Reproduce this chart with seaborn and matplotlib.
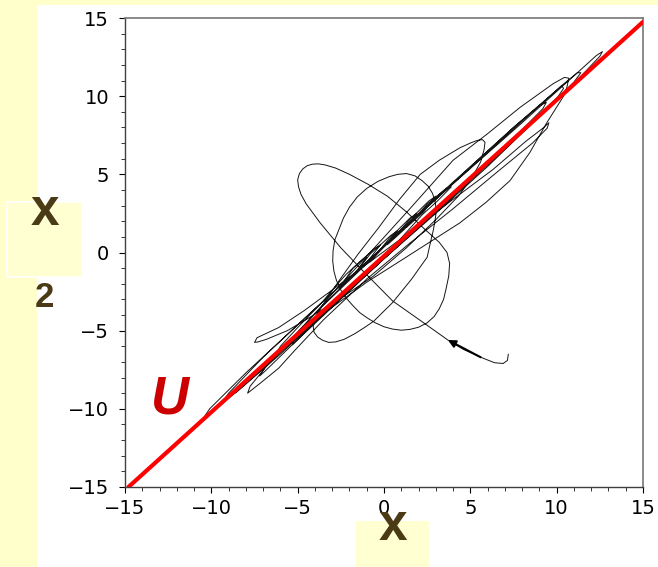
import numpy as np
import matplotlib
matplotlib.use("Agg")
import matplotlib.pyplot as plt
from matplotlib.patches import Rectangle
from matplotlib.ticker import MultipleLocator
import seaborn as sns

sns.set_style("ticks")
plt.rcParams['font.family'] = ['DejaVu Sans']

# ---------------- data ----------------
# trajectory (x1, x2), traced segment by segment
seg_a_x1 = [7.2, 7.15, 6.9, 6.4, 5.6, 4.6, 3.7, 2.3, 0.5, -1.2, -2.5, -3.7, -4.5, -4.8, -4.95, -5.0, -4.9,
            -4.7, -4.45, -4.15, -3.8, -3.4, -2.8, -2.0, -0.9, 0.2, 1.3, 2.3, 3.2, 3.65, 3.8, 3.75, 3.6]
seg_a_x2 = [-6.5, -6.9, -7.1, -7.05, -6.7, -6.2, -5.6, -4.5, -3.1, -1.2, 0.3, 1.9, 3.1, 3.7, 4.2, 4.65, 5.05,
            5.35, 5.55, 5.65, 5.67, 5.6, 5.4, 5.0, 4.35, 3.6, 2.6, 1.55, 0.65, 0.0, -0.7, -1.5, -2.3]
seg_b_x1 = [3.45, 3.2, 2.9, 2.5, 2.0, 1.5, 1.0, 0.5, 0.0, -0.5, -0.95, -1.4, -1.8, -2.2, -2.5, -2.75, -2.9,
            -2.97, -2.95, -2.85, -2.6, -2.35, -2.0, -1.55, -1.0, -0.35, 0.3, 0.8, 1.3, 1.8, 2.2, 2.55, 2.8,
            2.95, 3.0, 3.0, 2.95, 2.85, 2.7, 2.5]
seg_b_x2 = [-3.0, -3.6, -4.1, -4.5, -4.78, -4.92, -4.97, -4.9, -4.75, -4.5, -4.2, -3.85, -3.4, -2.9, -2.4, -1.8,
            -1.2, -0.55, 0.1, 0.8, 1.5, 2.2, 2.9, 3.55, 4.1, 4.55, 4.85, 5.0, 5.05, 4.9, 4.6, 4.25, 3.8, 3.35,
            2.9, 2.4, 2.0, 1.4, 0.7, -0.3]
seg_c_x1 = [1.6, 0.5, -0.6, -1.2, -1.7, -2.3, -2.8, -3.2, -3.55, -3.85, -4.05, -4.1, -4.0, -3.4]
seg_c_x2 = [-1.7, -3.2, -4.4, -4.85, -5.2, -5.55, -5.72, -5.75, -5.62, -5.4, -5.1, -4.75, -4.2, -3.1]
seg_d_x1 = [-2.6, -1.5, -0.3, 0.9, 2.1, 3.2, 4.4, 5.0, 5.4, 5.7, 5.85, 5.8, 5.6, 5.1, 4.3, 3.0, 1.3, -0.6,
            -2.6, -4.6, -5.6, -6.8, -7.3, -7.5, -7.35, -6.1, -4.6, -3.0, -1.0, 1.5, 4.0, 6.3, 8.2, 9.2, 9.55]
seg_d_x2 = [-1.8, -0.1, 1.6, 3.4, 5.0, 5.9, 6.7, 7.0, 7.17, 7.22, 7.05, 6.6, 5.8, 4.8, 3.6, 2.1, 0.3, -1.5,
            -3.0, -4.35, -5.0, -5.55, -5.72, -5.75, -5.45, -4.8, -3.7, -2.4, -0.75, 1.3, 3.4, 5.3, 7.1, 7.95, 8.3]
seg_e_x1 = [9.45, 8.6, 6.5, 4.0, 1.5, -1.0, -3.5, -5.2, -6.1, -7.1, -7.9, -7.75, -6.6, -4.8, -2.8, -0.8, 1.5, 4.0,
            6.0, 7.9, 9.8, 10.45, 10.7, 10.6, 10.4, 9.4, 8.45, 7.3, 5.9, 4.4, 2.7, 1.0, -1.0, -3.0, -4.6, -5.8,
            -6.2, -6.0, -5.0, -3.6]
seg_e_x2 = [7.95, 7.0, 5.1, 2.8, 0.6, -1.7, -4.3, -6.3, -7.4, -8.3, -9.0, -8.55, -7.0, -4.9, -2.4, 0.0, 2.8, 5.9,
            7.6, 9.3, 10.8, 11.2, 11.15, 10.6, 10.0, 8.25, 6.4, 4.6, 3.2, 1.9, 0.7, -0.5, -1.9, -3.5, -4.9, -6.0,
            -6.4, -6.0, -4.8, -3.2]
seg_f_x1 = [-3.0, -2.2, -1.2, -1.0, -1.6, -2.4, -2.6, -1.8, -0.6, -0.2, -0.9, -1.7, -0.8, 0.4, 0.8, 0.1, -0.8,
            0.3, 1.5, 1.9, 1.2, 0.2, 1.4, 2.6, 3.0, 2.3, 1.3, 2.5, 3.6, 3.9, 3.1, 2.2]
seg_f_x2 = [-2.4, -1.4, -0.4, -0.3, -1.2, -2.1, -2.3, -1.0, 0.2, 0.5, -0.5, -1.4, -0.1, 1.1, 1.4, 0.5, -0.6,
            0.9, 2.2, 2.5, 1.5, 0.5, 2.0, 3.3, 3.6, 2.6, 1.6, 3.1, 4.1, 4.2, 3.3, 2.4]
seg_g_x1 = [0.0, -4.0, -7.5, -9.6, -10.4, -10.1, -8.0, -4.0, 0.0, 4.0, 8.0, 11.0, 12.3, 12.65, 12.5, 11.0, 8.0,
            4.0, 0.0, -3.0, -5.5, -6.9, -7.2, -6.8, -4.0, 0.0, 4.0, 7.5, 9.6, 10.3, 10.4, 10.1, 9.0, 6.0, 3.0,
            0.0, -2.5, -4.5, -5.3, -5.2, -4.0, -2.0]
seg_g_x2 = [-0.3, -4.4, -7.9, -9.9, -10.5, -10.0, -7.7, -3.6, 0.4, 4.4, 8.3, 11.3, 12.6, 12.85, 12.55, 10.8, 7.7,
            3.6, -0.4, -3.5, -6.1, -7.6, -7.9, -7.2, -3.9, 0.35, 4.45, 8.0, 10.0, 10.65, 10.5, 10.0, 8.7, 5.5, 2.5,
            -0.4, -2.9, -5.0, -5.9, -5.4, -3.9, -1.7]
seg_h_x1 = [1.0, 4.5, 7.5, 9.0, 9.4, 9.2, 7.5, 4.0, 0.5, -3.0, -6.0, -8.5, -9.3, -9.0, -7.0, -4.0, -1.0, 2.0,
            5.0, 8.0, 10.2, 11.2, 11.4, 11.0, 9.0, 6.0, 3.0, 0.5]
seg_h_x2 = [1.5, 5.0, 8.0, 9.4, 9.6, 9.2, 7.3, 3.7, 0.1, -3.4, -6.5, -8.9, -9.5, -9.0, -6.7, -3.6, -0.6, 2.4,
            5.4, 8.4, 10.6, 11.5, 11.5, 10.9, 8.7, 5.6, 2.6, 0.2]

# manifold U (diagonal line)
U_x1 = [-14.8, 15.0]
U_x2 = [-15.0, 14.75]

ticks_major = [-15, -10, -5, 0, 5, 10, 15]
label_U = "U"
label_x = "x"
label_sub = "2"

traj_x1 = np.concatenate([seg_a_x1, seg_b_x1, seg_c_x1, seg_d_x1, seg_e_x1, seg_f_x1, seg_g_x1, seg_h_x1])
traj_x2 = np.concatenate([seg_a_x2, seg_b_x2, seg_c_x2, seg_d_x2, seg_e_x2, seg_f_x2, seg_g_x2, seg_h_x2])

# ---------------- figure ----------------
W, H = 658, 567
fig = plt.figure(figsize=(W / 100, H / 100), dpi=100)
fig.patch.set_facecolor('#FFFFCC')
fig.patches.append(Rectangle((37 / W, 0), 1 - 37 / W, 1 - 5 / H, transform=fig.transFigure,
                             facecolor='white', edgecolor='none', zorder=-2))
# label boxes
fig.patches.append(Rectangle((7 / W, 1 - 277 / H), 75 / W, 75 / H, transform=fig.transFigure,
                             facecolor='#FFFFD2', edgecolor='white', lw=1.2, zorder=1))
fig.patches.append(Rectangle((356 / W, 0), 73 / W, 46 / H, transform=fig.transFigure,
                             facecolor='#FFFFD2', edgecolor='none', zorder=1))

ax = fig.add_axes([125 / W, 1 - 487 / H, 518 / W, 469 / H])
ax.set_facecolor('white')

sns.lineplot(x=traj_x1, y=traj_x2, sort=False, estimator=None, ax=ax,
             color='#151515', lw=0.7, zorder=2)
sns.lineplot(x=U_x1, y=U_x2, sort=False, estimator=None, ax=ax,
             color='#FF0000', lw=3.0, zorder=3)

ax.annotate('', xy=(traj_x1[6], traj_x2[6]), xytext=(traj_x1[4], traj_x2[4]),
            arrowprops=dict(arrowstyle='-|>', color='black', lw=1.5, mutation_scale=11,
                            shrinkA=0, shrinkB=0), zorder=4)

ax.set_xlim(-15, 15)
ax.set_ylim(-15, 15)
ax.set_xticks(ticks_major)
ax.set_yticks(ticks_major)
ax.xaxis.set_minor_locator(MultipleLocator(1))
ax.yaxis.set_minor_locator(MultipleLocator(1))
ax.set_xlabel('')
ax.set_ylabel('')
ax.tick_params(which='major', length=4.5, width=0.8, direction='out', labelsize=14, colors='black')
ax.tick_params(which='minor', length=2.8, width=0.7, direction='out', colors='#333333')
ax.tick_params(axis='y', which='major', pad=7)
ax.tick_params(axis='x', which='major', pad=4)
for side in ['left', 'bottom']:
    ax.spines[side].set_color('#404040')
    ax.spines[side].set_linewidth(1.0)
for side in ['top', 'right']:
    ax.spines[side].set_color('#777777')
    ax.spines[side].set_linewidth(1.2)

ax.text(-12.4, -10.3, label_U, color='#CC0000', fontsize=38, fontweight='bold', fontstyle='italic',
        family='Liberation Sans', ha='center', va='baseline', zorder=5)

brown = '#4B3A16'
fig.text(44.5 / W, 1 - 225 / H, label_x, color=brown, fontsize=37, fontweight='bold',
         family='Liberation Sans', ha='center', va='baseline', zorder=3)
fig.text(44 / W, 1 - 307 / H, label_sub, color=brown, fontsize=25, fontweight='bold',
         family='Liberation Sans', ha='center', va='baseline', zorder=3)
fig.text(392.5 / W, 1 - 540 / H, label_x, color=brown, fontsize=37, fontweight='bold',
         family='Liberation Sans', ha='center', va='baseline', zorder=3)

fig.savefig('out.png', dpi=100, facecolor=fig.get_facecolor())
